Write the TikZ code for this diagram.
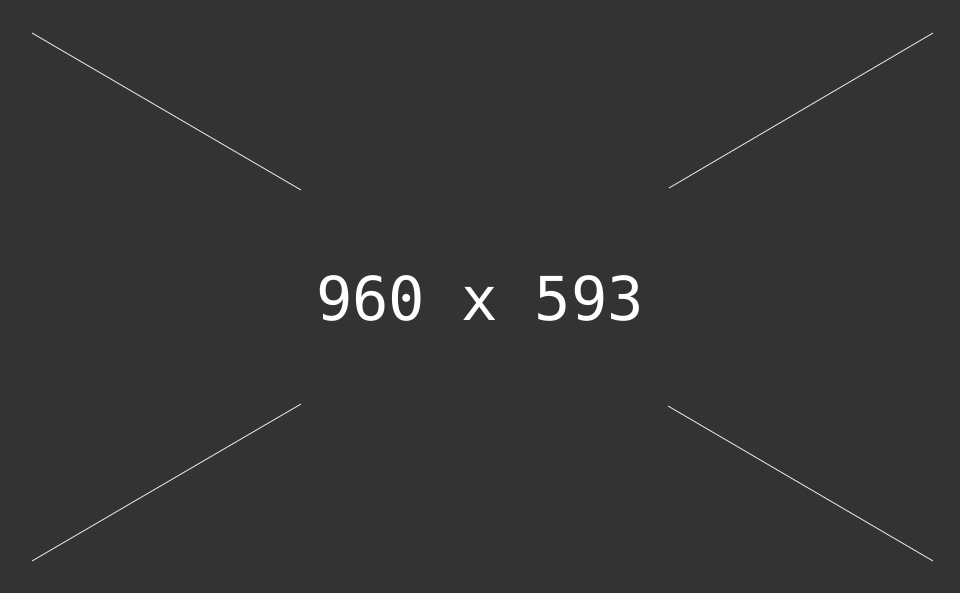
\documentclass[tikz,border=0pt]{standalone}
\usepackage{fontspec}
\newfontfamily\monofont{DejaVu Sans Mono}
\definecolor{bg}{HTML}{333333}
\definecolor{ln}{HTML}{E0E0E0}
\begin{document}
\begin{tikzpicture}[x=1pt,y=-1pt,
  diag/.style={draw=ln,line width=0.9pt},
  label/.style={text=white,font=\monofont\fontsize{60.5}{60.5}\selectfont,inner sep=0pt,anchor=base}]
\fill[bg] (0,0) rectangle (960,593);
\useasboundingbox (0,0) rectangle (960,593);
\coordinate (tl1) at (32,33);
\coordinate (tl2) at (301,190);
\coordinate (tr1) at (933,33);
\coordinate (tr2) at (669,188);
\coordinate (bl1) at (32,561);
\coordinate (bl2) at (301,404);
\coordinate (br1) at (933,561);
\coordinate (br2) at (668,406);
\draw[diag] (tl1) -- (tl2);
\draw[diag] (tr1) -- (tr2);
\draw[diag] (bl1) -- (bl2);
\draw[diag] (br1) -- (br2);
\node[label] (t) at (480,320) {960 x 593};
\end{tikzpicture}
\end{document}
